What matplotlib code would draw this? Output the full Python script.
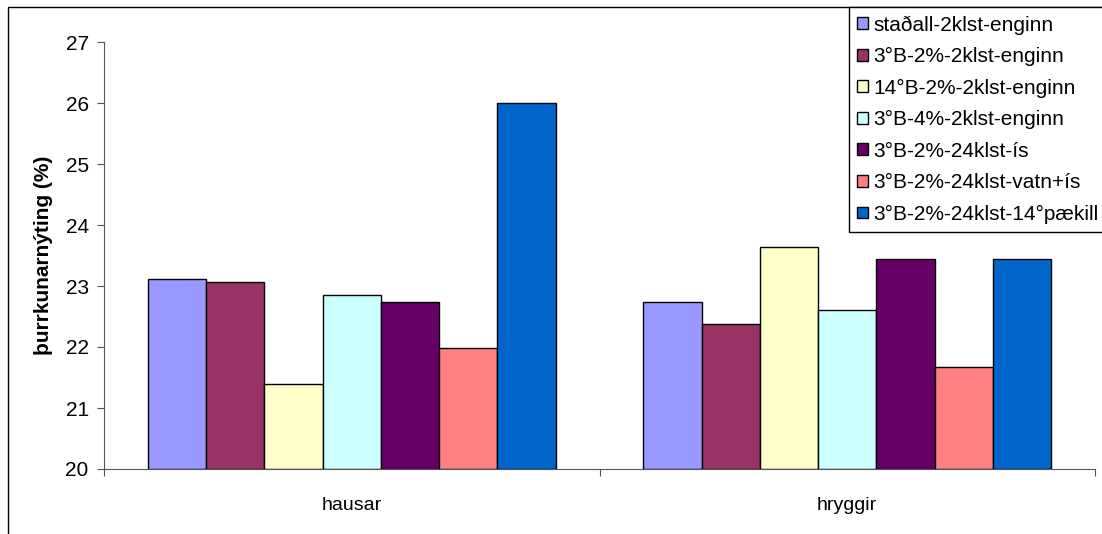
import numpy as np
import matplotlib.pyplot as plt
from matplotlib.patches import Rectangle

plt.rcParams['font.family'] = ['Liberation Sans', 'DejaVu Sans']

categories = ['hausar', 'hryggir']
series = ['staðall-2klst-enginn', '3°B-2%-2klst-enginn', '14°B-2%-2klst-enginn',
          '3°B-4%-2klst-enginn', '3°B-2%-24klst-ís', '3°B-2%-24klst-vatn+ís',
          '3°B-2%-24klst-14°pækill']
values = [
    [23.12, 22.74],
    [23.06, 22.37],
    [21.39, 23.64],
    [22.86, 22.61],
    [22.74, 23.44],
    [21.98, 21.67],
    [26.00, 23.44],
]
colors = ['#9999FF', '#993366', '#FFFFCC', '#CCFFFF', '#660066', '#FF8080', '#0066CC']

fig = plt.figure(figsize=(11.02, 5.34), dpi=100)
ax = fig.add_axes([104/1102, 1-469/534, (1095-104)/1102, (469-42)/534])

# Excel style: 150% gap width
w = 1/(len(series)+1.5)
x = np.arange(len(categories)) + 0.5
for i, (name, vals) in enumerate(zip(series, values)):
    ax.bar(x + (i-3)*w, np.array(vals)-20, bottom=20, width=w, color=colors[i],
           edgecolor='black', linewidth=1, label=name)

ax.set_xlim(0, len(categories))
ax.set_ylim(20, 27)
ax.set_yticks(range(20, 28))
ax.tick_params(axis='y', labelsize=15, length=5, width=0.8, color='#555555', pad=6)
ax.set_xticks([0, 1, 2])
ax.set_xticklabels([])
ax.tick_params(axis='x', which='major', length=5, width=0.8, color='#555555')
ax.set_xticks(x, minor=True)
ax.set_xticklabels(categories, minor=True, fontsize=14)
ax.tick_params(axis='x', which='minor', length=0, pad=20)
ax.set_ylabel('þurrkunarnýting (%)', fontsize=15, fontweight='bold', labelpad=9)

for s in ['top', 'right']:
    ax.spines[s].set_visible(False)
for s in ['left', 'bottom']:
    ax.spines[s].set_color('#555555')
    ax.spines[s].set_linewidth(0.8)

# outer chart border
fig.patches.append(Rectangle((8/1102, -0.1), 1.2, 1.1-7/534, transform=fig.transFigure,
                             fill=False, edgecolor='black', linewidth=1))

leg = fig.legend(loc='upper left', bbox_to_anchor=(849/1102, 1-7/534), borderaxespad=0,
                 fontsize=15, fancybox=False, edgecolor='black', framealpha=1,
                 handlelength=0.5, handleheight=0.5, handletextpad=0.25,
                 labelspacing=0.6, borderpad=0.4)
leg.get_frame().set_linewidth(1)

fig.savefig('out.png', dpi=100)
